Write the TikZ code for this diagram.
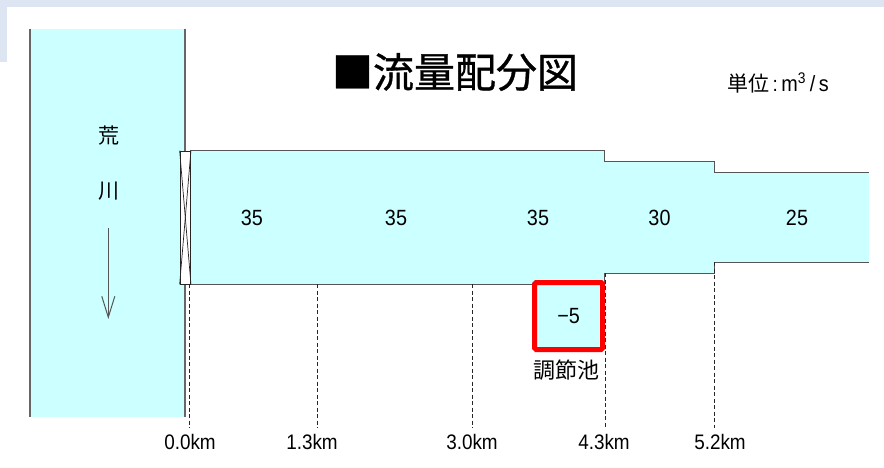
\documentclass[tikz,border=0pt]{standalone}
\usepackage{fontspec}
\setmainfont[FakeStretch=0.9]{Liberation Sans}
\newfontfamily\cjk{Noto Sans CJK JP}
\newfontfamily\cjktitle[FakeBold=0.8]{Noto Sans CJK JP}
\usetikzlibrary{arrows.meta}
\definecolor{bandc}{HTML}{DCE5F1}
\definecolor{waterc}{HTML}{CCFFFF}
\definecolor{edgec}{HTML}{555555}
\begin{document}
\begin{tikzpicture}[x=1pt,y=-1pt,
  band/.style={fill=bandc},
  water/.style={fill=waterc},
  rivline/.style={draw=edgec!90!white,line width=1.2pt},
  chanline/.style={draw=edgec,line width=1pt},
  num/.style={font=\fontsize{22}{22}\selectfont,inner sep=0pt},
  km/.style={font=\fontsize{21}{21}\selectfont,inner sep=0pt,anchor=base},
  jp/.style={font=\fontsize{21}{21}\selectfont\cjk,inner sep=0pt},
  dashline/.style={draw=black!85,line width=0.8pt,dash pattern=on 4pt off 2.5pt},
  gatebox/.style={draw=black!85,fill=white,line width=0.8pt,minimum width=10.5pt,minimum height=133pt,inner sep=0pt},
  pondbox/.style={draw=red,line width=5pt,fill=waterc,rounded corners=1.5pt,minimum width=68pt,minimum height=67pt,inner sep=0pt,font=\fontsize{22}{22}\selectfont},
  flowarrow/.style={draw=edgec,line width=1pt,-{Straight Barb[length=21pt,width=13pt,line width=1pt]}}
]
\useasboundingbox (0,0) rectangle (884,468);
% background bands
\fill[band] (0,0) rectangle (884,7);
\fill[band] (0,0) rectangle (7,62);
% river
\fill[water] (30,28.7) rectangle (185,417);
\draw[rivline] (30,28.7) -- (30,417);
\draw[rivline] (185,28.7) -- (185,417);
\node[jp] (ara) at (108.5,136) {荒};
\node[jp] (kawa) at (108.5,191) {川};
\coordinate (fa) at (108.3,228);
\coordinate (fb) at (108.3,319);
\draw[flowarrow] (fa) -- (fb);
% channel
\fill[water] (190,151) -- (604,151) -- (604,162) -- (714,162) -- (714,173) -- (869,173)
  -- (869,262) -- (714,262) -- (714,273) -- (604,273) -- (604,284) -- (190,284) -- cycle;
\draw[chanline] (190,151) -- (604,151) -- (604,162) -- (714,162) -- (714,173) -- (869,173);
\draw[chanline] (190,284) -- (604,284) -- (604,273) -- (714,273) -- (714,262) -- (869,262);
% gate
\node[gatebox] (gate) at (185.3,217.5) {};
\draw[black!85,line width=0.7pt] (gate.north west) -- (gate.south east);
\draw[black!85,line width=0.7pt] (gate.north east) -- (gate.south west);
% flows
\node[num] (n1) at (252,218) {35};
\node[num] (n2) at (396,218) {35};
\node[num] (n3) at (538,218) {35};
\node[num] (n4) at (659.5,218) {30};
\node[num] (n5) at (797,218) {25};
% distance lines and labels
\coordinate (d0t) at (189.8,284); \coordinate (d0b) at (189.8,428);
\coordinate (d1t) at (317.8,284); \coordinate (d1b) at (317.8,428);
\coordinate (d2t) at (472.4,284); \coordinate (d2b) at (472.4,428);
\coordinate (d3t) at (605,273);   \coordinate (d3b) at (605,428);
\coordinate (d4t) at (714.5,262); \coordinate (d4b) at (714.5,428);
\draw[dashline] (d0t) -- (d0b);
\draw[dashline] (d1t) -- (d1b);
\draw[dashline] (d2t) -- (d2b);
\draw[dashline] (d3t) -- (d3b);
\draw[dashline] (d4t) -- (d4b);
\node[km] (k0) at (190,449) {0.0km};
\node[km] (k1) at (312,449) {1.3km};
\node[km] (k2) at (472,449) {3.0km};
\node[km] (k3) at (604,449) {4.3km};
\node[km] (k4) at (720,449) {5.2km};
% regulating pond
\node[pondbox] (pond) at (568.6,316) {−5};
\node[jp,font=\fontsize{22}{22}\selectfont\cjk] (pondlbl) at (566,370) {調節池};
% title and unit
\node[inner sep=0pt,font=\fontsize{41}{41}\selectfont\cjktitle] (title) at (455,72) {■流量配分図};
\node[inner sep=0pt,anchor=west,font=\fontsize{21}{21}\selectfont] (unit) at (727,83) {{\cjk 単位}\,:\,{\fontsize{22}{22}\selectfont m\textsuperscript{3}\,/\,s}};
\end{tikzpicture}
\end{document}
